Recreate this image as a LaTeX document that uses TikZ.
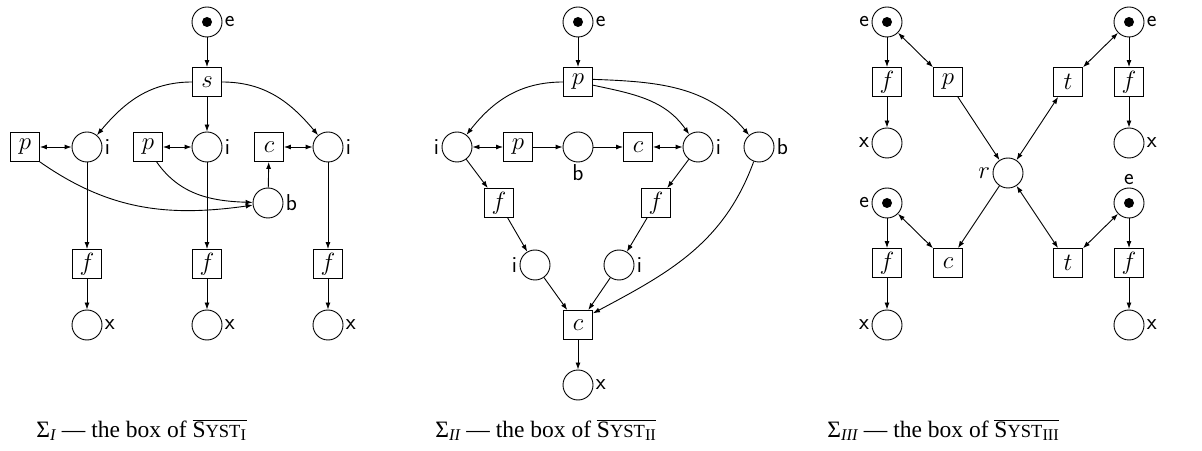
\documentclass[tikz,border=0pt]{standalone}
\usepackage{fontspec}
\usetikzlibrary{arrows.meta}
\newfontfamily\capfont{Liberation Serif}
\newcommand\labfont{\sffamily\fontsize{23}{27}\selectfont}
\newcommand\trfont{\fontsize{27}{32}\selectfont}
\newcommand\capsize{\capfont\fontsize{23.5}{28}\selectfont}
\begin{document}
\begin{tikzpicture}[x=1pt,y=1pt, line width=0.9pt,
  place/.style={circle, draw, minimum size=30pt, inner sep=0pt},
  tok/.style={place, path picture={\fill (path picture bounding box.center) circle (5pt);}},
  trans/.style={rectangle, draw, minimum size=29pt, inner sep=0pt, font=\trfont},
  arc/.style={-{Latex[length=7pt,width=5pt]}},
  biarc/.style={{Latex[length=7pt,width=5pt]}-{Latex[length=7pt,width=5pt]}},
  every label/.style={font=\labfont, inner sep=2pt},
  capt/.style={anchor=base west, inner sep=0pt, font=\capsize}
]
\useasboundingbox (0,0) rectangle (1202,450);

% ---------------- Panel I ----------------
\node[tok, label=right:e] (e1) at (207,428) {};
\node[trans] (s1) at (207,368) {$s$};
\node[place, label=right:i] (i1a) at (87,303) {};
\node[place, label=right:i] (i1b) at (207,303) {};
\node[place, label=right:i] (i1c) at (328,303) {};
\node[trans] (pA) at (25,303) {$p$};
\node[trans] (pB) at (148,303) {$p$};
\node[trans] (cA) at (269,303) {$c$};
\node[place, label=right:b] (b1) at (268,247) {};
\node[trans] (f1a) at (87,186) {$f$};
\node[trans] (f1b) at (207,186) {$f$};
\node[trans] (f1c) at (328,186) {$f$};
\node[place, label=right:x] (x1a) at (87,125) {};
\node[place, label=right:x] (x1b) at (207,125) {};
\node[place, label=right:x] (x1c) at (328,125) {};

\draw[arc] (e1) -- (s1);
\draw[arc] (s1.west) to[out=180,in=50] (i1a);
\draw[arc] (s1) -- (i1b);
\draw[arc] (s1.east) to[out=0,in=130] (i1c);
\draw[biarc] (pA) -- (i1a);
\draw[biarc] (pB) -- (i1b);
\draw[biarc] (cA) -- (i1c);
\draw[arc] (pA.south east) to[out=-35,in=188] (b1);
\draw[arc] (pB.-60) to[out=-55,in=178] (b1);
\draw[arc] (b1) -- (cA);
\draw[arc] (i1a) -- (f1a);
\draw[arc] (i1b) -- (f1b);
\draw[arc] (i1c) -- (f1c);
\draw[arc] (f1a) -- (x1a);
\draw[arc] (f1b) -- (x1b);
\draw[arc] (f1c) -- (x1c);

% ---------------- Panel II ----------------
\node[tok, label=right:e] (e2) at (578,428) {};
\node[trans] (p2) at (578,368) {$p$};
\node[place, label=left:i] (iL) at (457,303) {};
\node[trans] (pM) at (518,303) {$p$};
\node[place, label=below:b] (bM) at (578,303) {};
\node[trans] (cM) at (638,303) {$c$};
\node[place, label=right:i] (iR) at (698,303) {};
\node[place, label=right:b] (bR) at (759,303) {};
\node[trans] (fL) at (499,247) {$f$};
\node[trans] (fR) at (656,247) {$f$};
\node[place, label=left:i] (iLL) at (535,185) {};
\node[place, label=right:i] (iLR) at (619,185) {};
\node[trans] (c2) at (578,125) {$c$};
\node[place, label=right:x] (x2) at (578,65) {};

\draw[arc] (e2) -- (p2);
\draw[arc] (p2.west) to[out=180,in=52] (iL);
\draw[arc] (p2.-12) to[out=-12,in=125] (iR);
\draw[arc] (p2.10) to[out=-2,in=130] (bR);
\draw[biarc] (iL) -- (pM);
\draw[arc] (pM) -- (bM);
\draw[arc] (bM) -- (cM);
\draw[biarc] (cM) -- (iR);
\draw[arc] (iL) -- (fL);
\draw[arc] (fL) -- (iLL);
\draw[arc] (iR) -- (fR);
\draw[arc] (fR) -- (iLR);
\draw[arc] (iLL) -- (c2);
\draw[arc] (iLR) -- (c2);
\draw[arc] (bR) to[out=-110,in=28] (c2.38);
\draw[arc] (c2) -- (x2);

% ---------------- Panel III ----------------
\node[tok, label=left:e] (eTL) at (887,428) {};
\node[tok, label=right:e] (eTR) at (1129,428) {};
\node[trans] (fTL) at (887,368) {$f$};
\node[trans] (pP) at (948,368) {$p$};
\node[trans] (tT) at (1068,368) {$t$};
\node[trans] (fTR) at (1129,368) {$f$};
\node[place, label=left:x] (xTL) at (887,307) {};
\node[place, label=right:x] (xTR) at (1129,307) {};
\node[place, label={left:$r$}] (r) at (1008,277) {};
\node[tok, label=left:e] (eBL) at (887,247) {};
\node[tok, label=above:e] (eBR) at (1129,247) {};
\node[trans] (fBL) at (887,187) {$f$};
\node[trans] (cC) at (948,187) {$c$};
\node[trans] (tB) at (1068,187) {$t$};
\node[trans] (fBR) at (1129,187) {$f$};
\node[place, label=left:x] (xBL) at (887,125) {};
\node[place, label=right:x] (xBR) at (1129,125) {};

\draw[arc] (eTL) -- (fTL);
\draw[arc] (fTL) -- (xTL);
\draw[arc] (eTR) -- (fTR);
\draw[arc] (fTR) -- (xTR);
\draw[arc] (eBL) -- (fBL);
\draw[arc] (fBL) -- (xBL);
\draw[arc] (eBR) -- (fBR);
\draw[arc] (fBR) -- (xBR);
\draw[biarc] (eTL) -- (pP);
\draw[arc] (pP) -- (r);
\draw[biarc] (r) -- (tT);
\draw[biarc] (tT) -- (eTR);
\draw[arc] (r) -- (cC);
\draw[biarc] (cC) -- (eBL);
\draw[biarc] (r) -- (tB);
\draw[biarc] (tB) -- (eBR);

% ---------------- Captions ----------------
\node[capt] (cap1) at (36,13) {Σ\textsubscript{\itshape I} — the box of $\overline{\hbox{S{\fontsize{18.5}{22}\selectfont YST}\textsubscript{I}}}$};
\node[capt] (cap2) at (435,13) {Σ\textsubscript{\itshape II} — the box of $\overline{\hbox{S{\fontsize{18.5}{22}\selectfont YST}\textsubscript{II}}}$};
\node[capt] (cap3) at (827,13) {Σ\textsubscript{\itshape III} — the box of $\overline{\hbox{S{\fontsize{18.5}{22}\selectfont YST}\textsubscript{III}}}$};
\end{tikzpicture}
\end{document}
